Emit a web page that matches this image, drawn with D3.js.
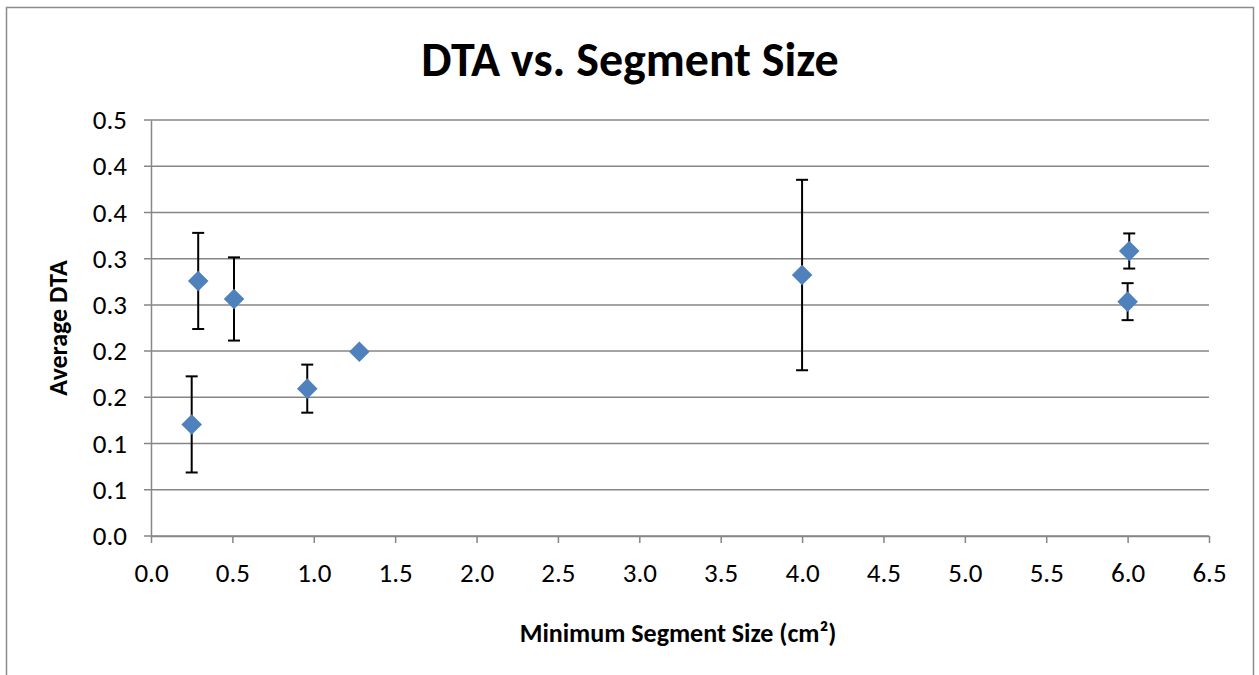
<!DOCTYPE html>
<html><head><meta charset="utf-8">
<script src="https://cdn.jsdelivr.net/npm/d3@7"></script>
<style>body{margin:0;background:#fff}svg{display:block}</style>
</head><body>
<script>
const xValues = [0.25, 0.29, 0.51, 0.96, 1.28, 4.0, 6.01, 6.0];
const yValues = [0.1207, 0.2759, 0.2564, 0.1594, 0.1994, 0.2823, 0.3083, 0.2535];
const yErrors = [0.052, 0.052, 0.045, 0.026, 0.002, 0.103, 0.019, 0.020];
const xTickValues = [0,0.5,1,1.5,2,2.5,3,3.5,4,4.5,5,5.5,6,6.5];
const xTickLabels = ["0.0","0.5","1.0","1.5","2.0","2.5","3.0","3.5","4.0","4.5","5.0","5.5","6.0","6.5"];
const yTickValues = [0,0.05,0.1,0.15,0.2,0.25,0.3,0.35,0.4,0.45];
const yTickLabels = ["0.0","0.1","0.1","0.2","0.2","0.3","0.3","0.4","0.4","0.5"];
const title = "DTA vs. Segment Size";
const xTitle = "Minimum Segment Size (cm²)";
const yTitle = "Average DTA";

const W = 1259, H = 675;
const m = {left:151, right:50, top:120, bottom:139};
const font = "Carlito, Calibri, 'Open Sans', sans-serif";
const svg = d3.select("body").append("svg").attr("width", W).attr("height", H);
svg.append("rect").attr("x",6.5).attr("y",7.5).attr("width",1247).attr("height",690)
  .attr("fill","#fff").attr("stroke","#8c8c8c").attr("stroke-width",1.5);

const x = d3.scaleLinear().domain([0,6.5]).range([m.left, W-m.right]);
const y = d3.scaleLinear().domain([0,0.45]).range([H-m.bottom, m.top]);

const gridColor = "#868686";
svg.append("g").selectAll("line").data(yTickValues).join("line")
  .attr("x1", x(0)-7).attr("x2", x(6.5)).attr("y1", d=>y(d)).attr("y2", d=>y(d))
  .attr("stroke", gridColor).attr("stroke-width",1.5);

const xAxis = d3.axisBottom(x).tickValues(xTickValues).tickFormat((d,i)=>xTickLabels[i]).tickSize(7).tickSizeOuter(0).tickPadding(20);
const gx = svg.append("g").attr("transform",`translate(0,${y(0)})`).call(xAxis);
gx.select(".domain").attr("stroke",gridColor).attr("stroke-width",1.5);
gx.selectAll(".tick line").attr("stroke",gridColor).attr("stroke-width",1.5);
gx.selectAll("text").attr("font-family",font).attr("font-size",27).attr("fill","#000");

const yAxis = d3.axisLeft(y).tickValues(yTickValues).tickFormat((d,i)=>yTickLabels[i]).tickSize(0).tickSizeOuter(0).tickPadding(24);
const gy = svg.append("g").attr("transform",`translate(${x(0)},0)`).call(yAxis);
gy.select(".domain").attr("stroke",gridColor).attr("stroke-width",1.5);
gy.selectAll("text").attr("font-family",font).attr("font-size",27).attr("fill","#000");

const data = xValues.map((v,i)=>({x:v, y:yValues[i], e:yErrors[i]}));
const eb = svg.append("g").selectAll("g").data(data).join("g");
eb.append("line").attr("x1",d=>x(d.x)).attr("x2",d=>x(d.x)).attr("y1",d=>y(d.y-d.e)).attr("y2",d=>y(d.y+d.e))
  .attr("stroke","#000").attr("stroke-width",2);
eb.append("line").attr("x1",d=>x(d.x)-6).attr("x2",d=>x(d.x)+6).attr("y1",d=>y(d.y-d.e)).attr("y2",d=>y(d.y-d.e))
  .attr("stroke","#000").attr("stroke-width",2);
eb.append("line").attr("x1",d=>x(d.x)-6).attr("x2",d=>x(d.x)+6).attr("y1",d=>y(d.y+d.e)).attr("y2",d=>y(d.y+d.e))
  .attr("stroke","#000").attr("stroke-width",2);
svg.append("g").selectAll("path").data(data).join("path")
  .attr("d", d3.symbol(d3.symbolDiamond2, 270))
  .attr("transform", d=>`translate(${x(d.x)},${y(d.y)})`)
  .attr("fill","#4F81BD");

svg.append("text").attr("x",630).attr("y",76).attr("text-anchor","middle")
  .attr("font-family",font).attr("font-weight","bold").attr("font-size",48).text(title);
svg.append("text").attr("x",678).attr("y",642).attr("text-anchor","middle")
  .attr("font-family",font).attr("font-weight","bold").attr("font-size",26).text(xTitle);
svg.append("text").attr("transform","translate(67,328) rotate(-90)").attr("text-anchor","middle")
  .attr("font-family",font).attr("font-weight","bold").attr("font-size",26).text(yTitle);
</script>
</body></html>
